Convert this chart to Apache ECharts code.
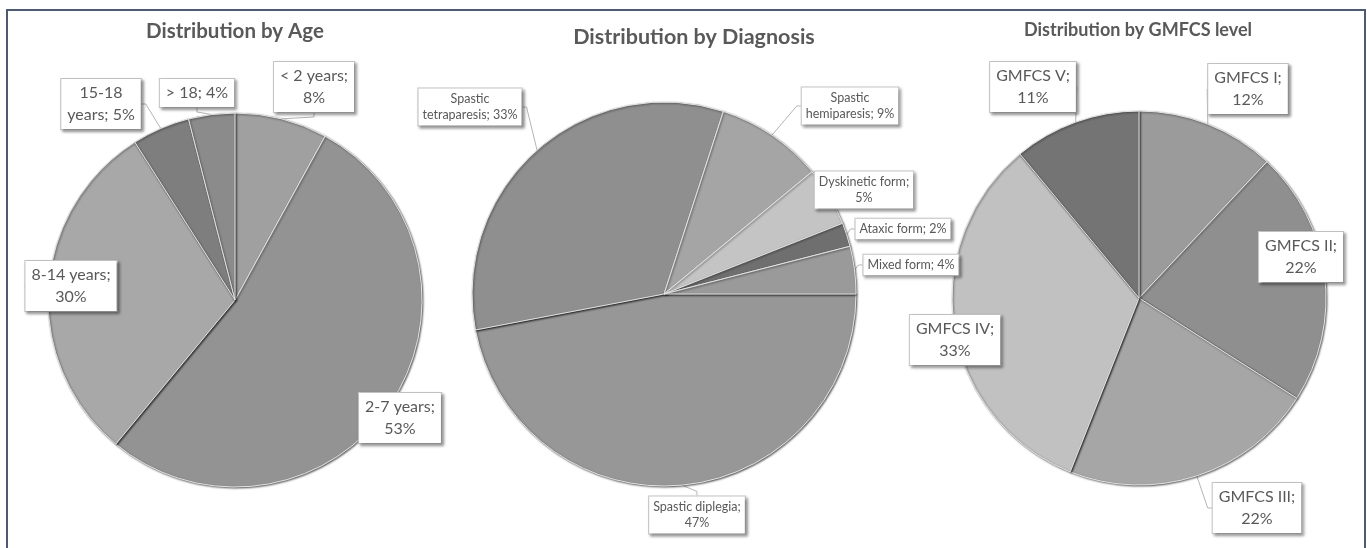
<!DOCTYPE html>
<html>
<head>
<meta charset="utf-8">
<title>Patient distribution</title>
<script src="https://cdn.jsdelivr.net/npm/echarts@6/dist/echarts.min.js"></script>
<style>
  html, body { margin: 0; padding: 0; background: #ffffff; }
  #chart { width: 1367px; height: 548px; }
</style>
</head>
<body>
<div id="chart"></div>
<script>
// ---- data ----
const ageCategories = ['< 2 years', '2-7 years', '8-14 years', '15-18 years', '> 18'];
const ageValues = [8, 53, 30, 5, 4];

const diagnosisCategories = ['Spastic diplegia', 'Spastic tetraparesis', 'Spastic hemiparesis',
  'Dyskinetic form', 'Ataxic form', 'Mixed form'];
const diagnosisValues = [47, 33, 9, 5, 2, 4];

const gmfcsCategories = ['GMFCS I', 'GMFCS II', 'GMFCS III', 'GMFCS IV', 'GMFCS V'];
const gmfcsValues = [12, 22, 22, 33, 11];

const chartTitles = ['Distribution by Age', 'Distribution by Diagnosis', 'Distribution by GMFCS level'];

// ---- styles ----
const ageColors = ['#a0a0a0', '#939393', '#a8a8a8', '#7e7e7e', '#8b8b8b'];
const diagnosisColors = ['#979797', '#8f8f8f', '#a5a5a5', '#c4c4c4', '#6f6f6f', '#9a9a9a'];
const gmfcsColors = ['#9b9b9b', '#8f8f8f', '#a6a6a6', '#c1c1c1', '#747474'];

// callout box centres (px) for each pie's labels
const ageLabelSpots = [[314, 87], [400, 418], [71, 286], [101, 104], [197, 93]];
const diagnosisLabelSpots = [[697, 515], [470, 107], [850, 106], [864, 190], [903, 229], [911, 265]];
const gmfcsLabelSpots = [[1248, 89], [1301, 257], [1257, 508], [955, 340], [1033, 87]];

const FONT = 'Lato, "Open Sans", sans-serif';
const TEXT = '#595959';

// greedy word wrap of "name; value%" into lines of at most maxChars characters
function wrapLabel(text, maxChars) {
  const words = text.split(' ');
  const lines = [];
  let line = '';
  words.forEach(w => {
    const next = line ? line + ' ' + w : w;
    if (next.length > maxChars && line) {
      lines.push(line);
      line = w;
    } else {
      line = next;
    }
  });
  if (line) lines.push(line);
  return lines.join('\n');
}

function makePie(names, values, colors, center, radius, startAngle, spots, maxChars, fontSize, lineHeight, padding) {
  return {
    type: 'pie',
    center: center,
    radius: radius,
    startAngle: startAngle,
    clockwise: true,
    avoidLabelOverlap: false,
    animation: false,
    data: names.map((n, i) => ({ name: n, value: values[i], itemStyle: { color: colors[i] } })),
    itemStyle: {
      borderColor: '#e4e4e4',
      borderWidth: 1,
      shadowColor: 'rgba(0,0,0,0.55)',
      shadowBlur: 2,
      shadowOffsetX: 1,
      shadowOffsetY: 1
    },
    emphasis: { disabled: true },
    label: {
      show: true,
      position: 'outside',
      formatter: p => wrapLabel(p.name + '; ' + p.value + '%', maxChars),
      fontFamily: FONT,
      fontSize: fontSize,
      lineHeight: lineHeight,
      color: TEXT,
      align: 'center',
      backgroundColor: '#ffffff',
      borderColor: '#c4c4c4',
      borderWidth: 1,
      padding: padding,
      shadowColor: 'rgba(0,0,0,0.35)',
      shadowBlur: 3,
      shadowOffsetX: 2,
      shadowOffsetY: 2
    },
    labelLine: {
      show: true,
      length: 4,
      length2: 4,
      lineStyle: { color: '#b5b5b5', width: 1 }
    },
    labelLayout: function (p) {
      const s = spots[p.dataIndex];
      return { x: s[0], y: s[1], align: 'center', verticalAlign: 'middle' };
    }
  };
}

function makeTitle(text, x, y, size) {
  return {
    text: text,
    left: x,
    top: y,
    textAlign: 'center',
    textVerticalAlign: 'middle',
    padding: 0,
    textStyle: { fontFamily: FONT, fontWeight: 'bold', fontSize: size, color: TEXT }
  };
}

const chart = echarts.init(document.getElementById('chart'), null, { renderer: 'canvas' });
chart.setOption({
  backgroundColor: '#ffffff',
  animation: false,
  title: [
    makeTitle(chartTitles[0], 235, 31, 20.5),
    makeTitle(chartTitles[1], 694, 37, 21.5),
    makeTitle(chartTitles[2], 1138, 30, 18)
  ],
  graphic: [{
    type: 'rect',
    shape: { x: 7, y: 10, width: 1358, height: 560 },
    style: { fill: 'none', stroke: '#4d5a72', lineWidth: 2 },
    silent: true
  }],
  series: [
    makePie(ageCategories, ageValues, ageColors, [235, 300], 187, 90,
      ageLabelSpots, 11, 16, 22, [3, 6]),
    makePie(diagnosisCategories, diagnosisValues, diagnosisColors, [664, 294], 192, 0,
      diagnosisLabelSpots, 17, 12.5, 16.5, [2, 4]),
    makePie(gmfcsCategories, gmfcsValues, gmfcsColors, [1139, 298], 187, 90,
      gmfcsLabelSpots, 11, 16, 22, [3, 6])
  ]
});
</script>
</body>
</html>
